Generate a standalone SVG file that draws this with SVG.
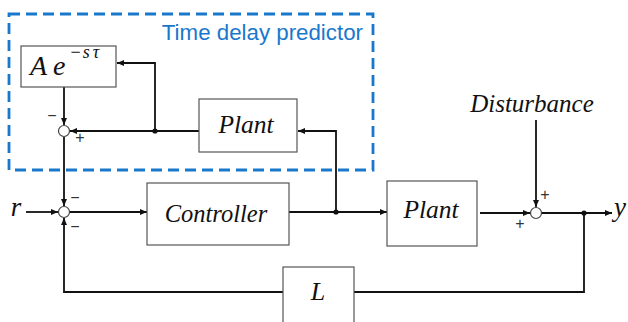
<svg xmlns="http://www.w3.org/2000/svg" width="628" height="322" viewBox="0 0 628 322">
  <style>
    .box { fill: #ffffff; stroke: #555555; stroke-width: 1.2; }
    .wire { fill: none; stroke: #111111; stroke-width: 1.8; }
    .sum { fill: #ffffff; stroke: #444444; stroke-width: 1.2; }
    .dot { fill: #111111; }
    text.lbl { font-family: 'Liberation Serif', serif; font-style: italic; fill: #111111; }
    text.sign { font-family: 'Liberation Sans', sans-serif; font-size: 16px; fill: #333333; }
    .group-frame { fill: none; stroke: #1a78cc; stroke-width: 2.8; stroke-dasharray: 11 6; }
    text.group-title { font-family: 'Liberation Sans', sans-serif; font-size: 22.3px; fill: #1a78cc; }
  </style>
  <defs>
    <marker id="arrow" markerUnits="userSpaceOnUse" markerWidth="8" markerHeight="6" refX="7" refY="3" orient="auto">
      <path d="M0,0 L7,3 L0,6 z" fill="#111111"/>
    </marker>
  </defs>

  <!-- predictor frame -->
  <g id="predictor-frame">
    <rect class="group-frame" x="9" y="14" width="364" height="156"/>
    <text class="group-title" x="363" y="40" text-anchor="end">Time delay predictor</text>
  </g>

  <!-- connectors -->
  <g id="connectors">
    <path class="wire" d="M64,87 V125" marker-end="url(#arrow)"/>
    <path class="wire" d="M199,131 H70" marker-end="url(#arrow)"/>
    <path class="wire" d="M155,131 V63 H117" marker-end="url(#arrow)"/>
    <path class="wire" d="M64,137 V206" marker-end="url(#arrow)"/>
    <path class="wire" d="M26,212 H58" marker-end="url(#arrow)"/>
    <path class="wire" d="M70,212 H147" marker-end="url(#arrow)"/>
    <path class="wire" d="M289,212 H387" marker-end="url(#arrow)"/>
    <path class="wire" d="M336,212 V131 H298" marker-end="url(#arrow)"/>
    <path class="wire" d="M480,213 H530" marker-end="url(#arrow)"/>
    <path class="wire" d="M536,120 V207" marker-end="url(#arrow)"/>
    <path class="wire" d="M541,213 H612" marker-end="url(#arrow)"/>
    <path class="wire" d="M584,213 V292 H354"/>
    <path class="wire" d="M283,292 H64 V218" marker-end="url(#arrow)"/>
    <circle class="dot" cx="155" cy="131" r="2.6"/>
    <circle class="dot" cx="336" cy="212" r="2.6"/>
    <circle class="dot" cx="584" cy="213" r="2.6"/>
  </g>

  <!-- delay model -->
  <g id="delay-model">
    <rect class="box" x="21" y="46" width="95" height="41"/>
    <text class="lbl" x="30" y="75" font-size="28">A<tspan dx="6">e</tspan><tspan dx="5" dy="-17" font-size="18" font-style="normal">−</tspan><tspan dx="2" font-size="18">s</tspan><tspan dx="3" font-size="18">τ</tspan></text>
  </g>

  <!-- plant model inside predictor -->
  <g id="plant-model">
    <rect class="box" x="199" y="99" width="98" height="53"/>
    <text class="lbl" x="246" y="133" font-size="25.5" text-anchor="middle">Plant</text>
  </g>

  <!-- predictor summing junction -->
  <g id="sum-predictor">
    <circle class="sum" cx="64" cy="131" r="5.5"/>
    <text class="sign" x="52" y="121" text-anchor="middle">−</text>
    <text class="sign" x="80" y="143" text-anchor="middle">+</text>
  </g>

  <!-- reference input and main summing junction -->
  <g id="reference">
    <text class="lbl" x="16" y="216" font-size="27" text-anchor="middle">r</text>
  </g>
  <g id="sum-main">
    <circle class="sum" cx="64" cy="212" r="5.5"/>
    <text class="sign" x="75" y="203" text-anchor="middle">−</text>
    <text class="sign" x="75" y="232" text-anchor="middle">−</text>
  </g>

  <!-- controller -->
  <g id="controller">
    <rect class="box" x="147" y="183" width="142" height="62"/>
    <text class="lbl" x="216" y="222" font-size="24.5" text-anchor="middle">Controller</text>
  </g>

  <!-- plant -->
  <g id="plant">
    <rect class="box" x="387" y="181" width="90" height="65"/>
    <text class="lbl" x="431" y="218" font-size="25.5" text-anchor="middle">Plant</text>
  </g>

  <!-- disturbance input -->
  <g id="disturbance">
    <text class="lbl" x="532" y="112" font-size="25" text-anchor="middle">Disturbance</text>
  </g>

  <!-- output summing junction -->
  <g id="sum-output">
    <circle class="sum" cx="536" cy="213" r="5.5"/>
    <text class="sign" x="545" y="200" text-anchor="middle">+</text>
    <text class="sign" x="520" y="229" text-anchor="middle">+</text>
  </g>

  <!-- output -->
  <g id="output">
    <text class="lbl" x="620" y="216" font-size="27" text-anchor="middle">y</text>
  </g>

  <!-- feedback block -->
  <g id="feedback-L">
    <rect class="box" x="283" y="267" width="71" height="60"/>
    <text class="lbl" x="318" y="300" font-size="26" text-anchor="middle">L</text>
  </g>
</svg>
